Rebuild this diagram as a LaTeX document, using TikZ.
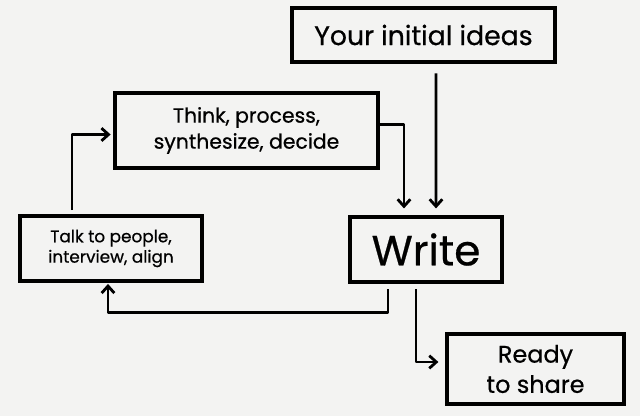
\documentclass[tikz,border=0pt]{standalone}
\usepackage{fontspec}
\setmainfont{Poppins}[FakeBold=0.6]
\usetikzlibrary{arrows.meta,positioning,calc}
\definecolor{paper}{HTML}{F3F3F2}

\begin{document}
\begin{tikzpicture}[
    x=0.025cm, y=-0.025cm,
    >={Straight Barb[length=5pt,width=9pt,line width=2pt]},
    box/.style={draw, line width=2.2pt, align=center, inner sep=0pt},
    arr/.style={->, line width=2pt, line join=round}
]
    \fill[paper] (0,0) rectangle (640,416);
    \useasboundingbox (0,0) rectangle (640,416);

    \node[box, font=\fontsize{19}{23}\selectfont,
          minimum width=6.575cm, minimum height=1.35cm] (ideas) at (423.5,35) {Your initial ideas};
    \node[box, font=\fontsize{14.5}{18.5}\selectfont,
          minimum width=6.575cm, minimum height=1.875cm] (think) at (246.5,130.5) {Think, process,\\synthesize, decide};
    \node[box, font=\fontsize{12}{14.5}\selectfont,
          minimum width=4.55cm, minimum height=1.625cm] (talk) at (111,248.5) {Talk to people,\\interview, align};
    \node[box, font=\fontsize{30}{36}\selectfont,
          minimum width=3.8cm, minimum height=1.625cm] (write) at (426,249.5) {Write};
    \node[box, font=\fontsize{17}{21.5}\selectfont,
          minimum width=4.425cm, minimum height=1.75cm] (ready) at (535.5,369) {Ready\\to share};

    % ideas and thinking feed the writing
    \draw[arr, shorten <=7pt, shorten >=5pt] ($(ideas.south)+(12.5,0)$) -- ($(write.north)+(10,0)$);
    \draw[arr, shorten >=5pt] ($(think.east)+(0,-6)$) -| ($(write.north)+(-22,0)$);
    % the feedback loop
    \draw[arr, shorten <=4pt, shorten >=1pt] ($(write.south)+(-38,0)$) |- ($(talk.south)+(-3,30)$) -- ($(talk.south)+(-3,0)$);
    \draw[arr, shorten <=3pt, shorten >=2pt] ($(talk.north)+(-39,0)$) |- ($(think.west)+(0,4)$);
    % done
    \draw[arr, shorten <=4pt, shorten >=5pt] ($(write.south)+(-10,0)$) |- ($(ready.west)+(0,-7)$);
\end{tikzpicture}
\end{document}
